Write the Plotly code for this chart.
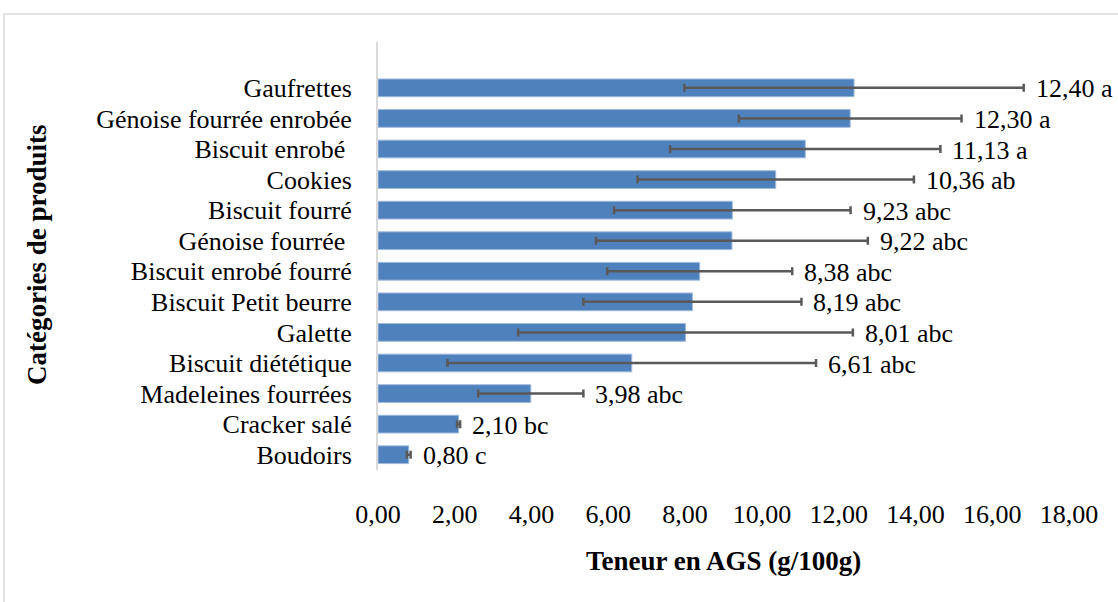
import plotly.graph_objects as go

categories = ["Boudoirs", "Cracker salé", "Madeleines fourrées", "Biscuit diététique",
              "Galette", "Biscuit Petit beurre", "Biscuit enrobé fourré", "Génoise fourrée ",
              "Biscuit fourré", "Cookies", "Biscuit enrobé ", "Génoise fourrée enrobée", "Gaufrettes"]
values = [0.80, 2.10, 3.98, 6.61, 8.01, 8.19, 8.38, 9.22, 9.23, 10.36, 11.13, 12.30, 12.40]
errors = [0.05, 0.04, 1.37, 4.80, 4.36, 2.84, 2.41, 3.54, 3.08, 3.60, 3.52, 2.90, 4.42]
letters = ["c", "bc", "abc", "abc", "abc", "abc", "abc", "abc", "abc", "ab", "a", "a", "a"]
tick_vals = [0, 2, 4, 6, 8, 10, 12, 14, 16, 18]
tick_text = ["0,00", "2,00", "4,00", "6,00", "8,00", "10,00", "12,00", "14,00", "16,00", "18,00"]

labels = [f"{v:.2f}".replace(".", ",") + " " + l for v, l in zip(values, letters)]
FONT = "Liberation Serif, Times New Roman, serif"

# plot area in pixels
L, R, T, B = 378, 1069, 42, 470
W, H = 1118, 602
pw, ph = R - L, B - T


def px(x):
    return (x - L) / pw


def py(y):
    return (B - y) / ph


fig = go.Figure()
fig.add_trace(go.Bar(
    y=categories, x=values, orientation="h",
    marker=dict(color="#4f81bd", line=dict(color="#9fb9dc", width=1)),
    width=0.58,
    error_x=dict(type="data", array=errors, visible=True, color="#595959", thickness=2.5, width=4),
    hoverinfo="skip",
))

annotations = []
for c, v, e, t in zip(categories, values, errors, labels):
    annotations.append(dict(x=v + e, y=c, xref="x", yref="y", text=t, showarrow=False,
                            xanchor="left", yanchor="middle", xshift=10, yshift=-1,
                            font=dict(family=FONT, size=26, color="#000000")))
annotations.append(dict(x=px(723), y=py(561), xref="paper", yref="paper",
                        text="<b>Teneur en AGS (g/100g)</b>", showarrow=False,
                        xanchor="center", yanchor="middle",
                        font=dict(family=FONT, size=27, color="#000000")))
annotations.append(dict(x=px(37), y=py(255), xref="paper", yref="paper",
                        text="<b>Catégories de produits</b>", showarrow=False, textangle=-90,
                        xanchor="center", yanchor="middle",
                        font=dict(family=FONT, size=27, color="#000000")))

fig.update_layout(
    width=W, height=H,
    margin=dict(l=L, r=W - R, t=T, b=H - B, autoexpand=False),
    paper_bgcolor="white", plot_bgcolor="white",
    showlegend=False,
    font=dict(family=FONT, size=26, color="#000000"),
    xaxis=dict(range=[0, 18], tickvals=tick_vals, ticktext=tick_text, showgrid=False,
               zeroline=False, showline=False, ticks="", ticklabelstandoff=26,
               tickfont=dict(size=26), automargin=False),
    yaxis=dict(type="category", categoryorder="array", categoryarray=categories,
               tickmode="array", tickvals=categories, ticktext=categories,
               range=[-0.5, 13.5], showgrid=False, zeroline=False,
               showline=True, linecolor="#d9d9d9", linewidth=2, ticks="", ticklabelstandoff=19,
               tickfont=dict(size=26), automargin=False),
    annotations=annotations,
    shapes=[dict(type="rect", xref="paper", yref="paper",
                 x0=px(4), x1=px(1130), y0=py(620), y1=py(14),
                 line=dict(color="#d9d9d9", width=1.5), fillcolor="rgba(0,0,0,0)", layer="below")],
)

fig.write_html("out.html", config={"displayModeBar": False},
               post_script="document.body.style.margin='0';")
